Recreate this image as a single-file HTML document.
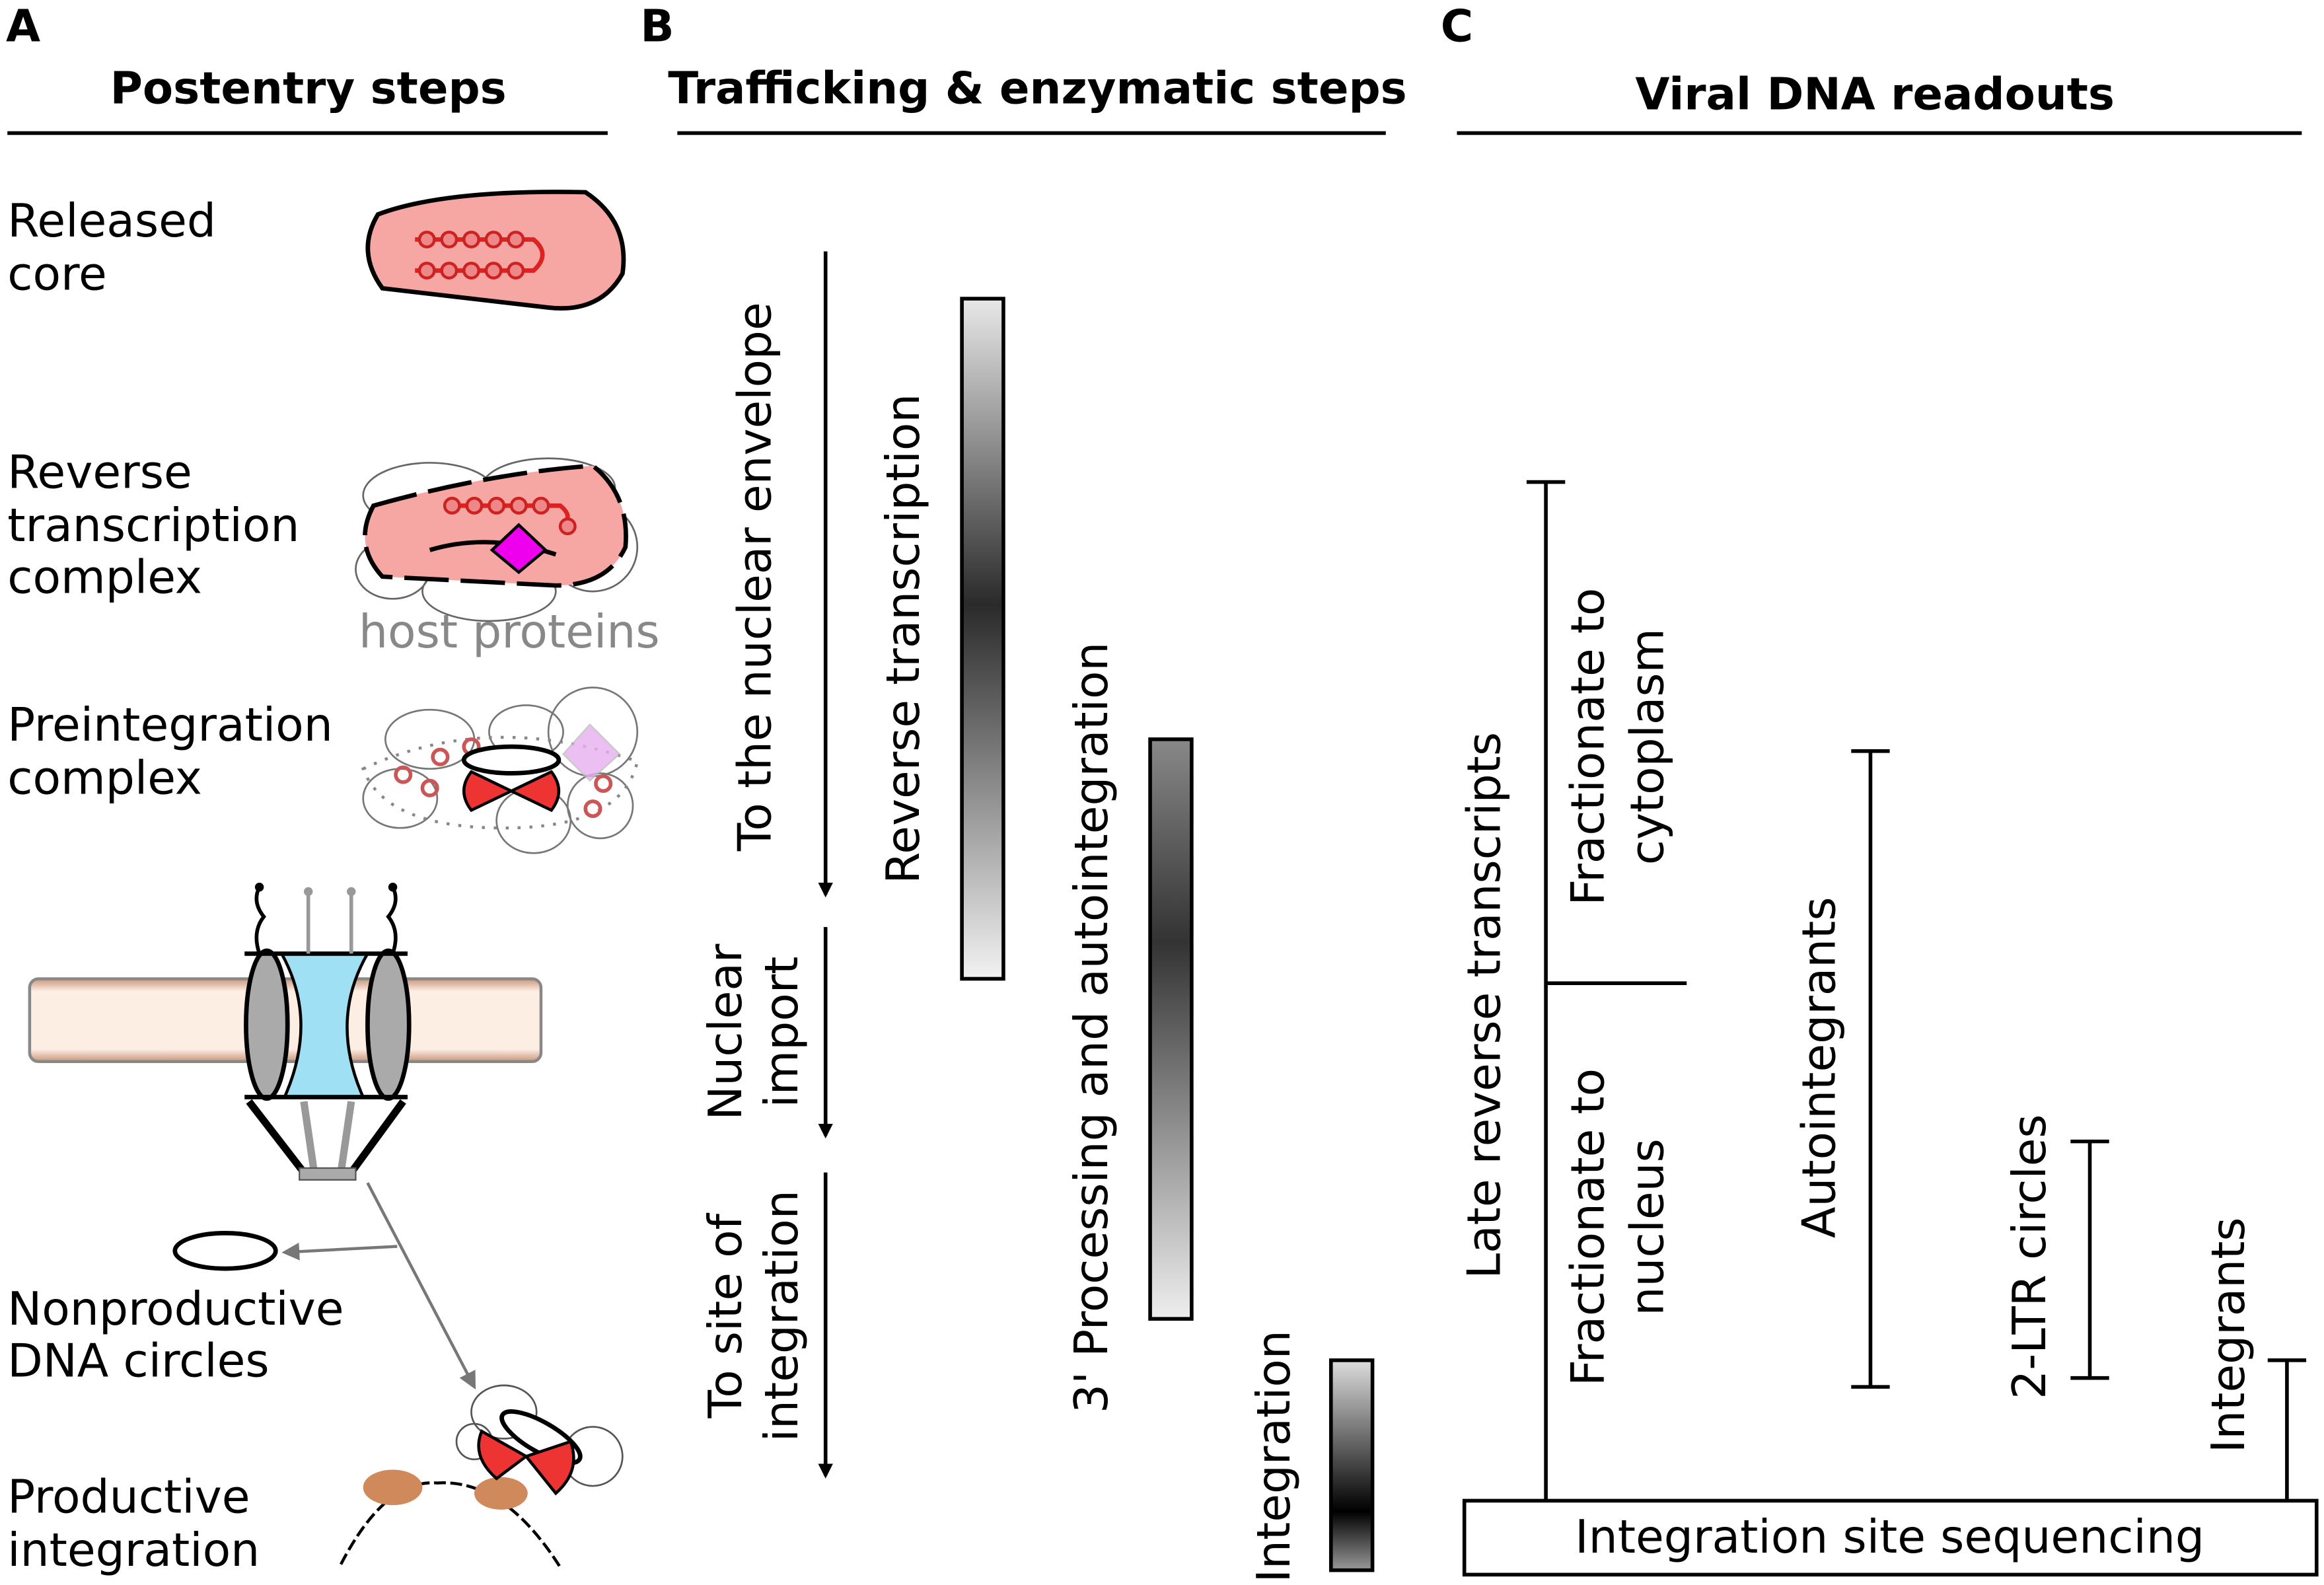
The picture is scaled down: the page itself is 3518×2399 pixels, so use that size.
<!DOCTYPE html>
<html><head><meta charset="utf-8"><style>
html,body{margin:0;padding:0;background:#fff;}
svg{display:block;}
text{font-family:"DejaVu Sans","Liberation Sans",sans-serif;}
</style></head><body>
<svg width="3518" height="2399" viewBox="0 0 1568 1072" preserveAspectRatio="none" xmlns="http://www.w3.org/2000/svg">
<defs>
<linearGradient id="g1" x1="0" y1="0" x2="0" y2="1"><stop offset="0" stop-color="#e8e8e8"/><stop offset="0.45" stop-color="#2a2a2a"/><stop offset="1" stop-color="#f2f2f2"/></linearGradient>
<linearGradient id="g2" x1="0" y1="0" x2="0" y2="1"><stop offset="0" stop-color="#888"/><stop offset="0.35" stop-color="#333"/><stop offset="1" stop-color="#eee"/></linearGradient>
<linearGradient id="g3" x1="0" y1="0" x2="0" y2="1"><stop offset="0" stop-color="#ddd"/><stop offset="0.72" stop-color="#000"/><stop offset="1" stop-color="#999"/></linearGradient>
<linearGradient id="mem" x1="0" y1="0" x2="0" y2="1"><stop offset="0" stop-color="#c8957a"/><stop offset="0.15" stop-color="#fdeee4"/><stop offset="0.85" stop-color="#fdeee4"/><stop offset="1" stop-color="#c8957a"/></linearGradient>
<marker id="ar" markerWidth="10" markerHeight="10" refX="8" refY="5" orient="auto" markerUnits="userSpaceOnUse"><path d="M0,0 L10,5 L0,10 Z" fill="#000"/></marker>
<marker id="ag" markerWidth="12" markerHeight="12" refX="10" refY="6" orient="auto" markerUnits="userSpaceOnUse"><path d="M0,0 L12,6 L0,12 Z" fill="#777"/></marker>
</defs>
<g font-weight="bold" font-size="30">
<text x="4" y="28">A</text><text x="432" y="28">B</text><text x="972" y="28">C</text>
</g>
<g font-weight="bold" font-size="30" text-anchor="middle">
<text x="208" y="70">Postentry steps</text>
<text x="700" y="70">Trafficking &amp; enzymatic steps</text>
<text x="1265" y="74">Viral DNA readouts</text>
</g>
<g stroke="#000" stroke-width="2.5">
<line x1="5" y1="90" x2="410" y2="90"/><line x1="457" y1="90" x2="935" y2="90"/><line x1="983" y1="90" x2="1553" y2="90"/>
</g>
<g font-size="31">
<text x="5" y="160">Released</text><text x="5" y="196">core</text>
<text x="5" y="330">Reverse</text><text x="5" y="366">transcription</text><text x="5" y="401">complex</text>
<text x="5" y="501">Preintegration</text><text x="5" y="537">complex</text>
<text x="5" y="896">Nonproductive</text><text x="5" y="931">DNA circles</text>
<text x="5" y="1023">Productive</text><text x="5" y="1059">integration</text>
<text x="242" y="438" fill="#888">host proteins</text>
</g>
<path d="M255,145 Q300,128 395,130 Q425,150 420,185 Q405,212 370,208 L258,195 Q240,170 255,145 Z" fill="#f6a6a3" stroke="#000" stroke-width="3"/>
<g stroke="#d22" stroke-width="3" fill="none"><path d="M280,162 H360 Q372,172 360,183 H280"/></g>
<g fill="#e88" stroke="#c22" stroke-width="2"><circle cx="288" cy="162" r="5"/><circle cx="303" cy="162" r="5"/><circle cx="318" cy="162" r="5"/><circle cx="333" cy="162" r="5"/><circle cx="348" cy="162" r="5"/><circle cx="288" cy="183" r="5"/><circle cx="303" cy="183" r="5"/><circle cx="318" cy="183" r="5"/><circle cx="333" cy="183" r="5"/><circle cx="348" cy="183" r="5"/></g>
<g fill="none" stroke="#666" stroke-width="1.2"><ellipse cx="290" cy="335" rx="45" ry="22"/><ellipse cx="370" cy="330" rx="45" ry="20"/><ellipse cx="330" cy="400" rx="45" ry="20"/><ellipse cx="400" cy="370" rx="30" ry="30"/><ellipse cx="265" cy="385" rx="25" ry="20"/></g>
<path d="M252,342 Q330,320 400,315 Q425,335 422,370 Q410,396 375,396 L258,390 Q238,368 252,342 Z" fill="#f6a6a3" stroke="#000" stroke-width="3" stroke-dasharray="30,8"/>
<path d="M300,342 H378 Q388,350 378,356" stroke="#d22" stroke-width="3" fill="none"/>
<g fill="#e88" stroke="#c22" stroke-width="2"><circle cx="305" cy="342" r="5"/><circle cx="320" cy="342" r="5"/><circle cx="335" cy="342" r="5"/><circle cx="350" cy="342" r="5"/><circle cx="365" cy="342" r="5"/><circle cx="383" cy="356" r="5"/></g>
<path d="M290,372 Q330,360 375,375" stroke="#000" stroke-width="3" fill="none"/>
<path d="M350,355 L368,372 L350,387 L332,372 Z" fill="#e0e" stroke="#000" stroke-width="2"/>
<g fill="none" stroke="#777" stroke-width="1.2"><ellipse cx="290" cy="500" rx="30" ry="20"/><ellipse cx="355" cy="495" rx="25" ry="18"/><ellipse cx="400" cy="495" rx="30" ry="30"/><ellipse cx="270" cy="540" rx="25" ry="20"/><ellipse cx="360" cy="555" rx="25" ry="22"/><ellipse cx="405" cy="545" rx="22" ry="22"/></g>
<path d="M245,520 Q330,480 430,515 Q420,560 340,560 Q260,560 245,520 Z" fill="none" stroke="#888" stroke-width="2" stroke-dasharray="2,6"/>
<path d="M398,490 L418,510 L398,528 L380,510 Z" fill="#e8b0f0" stroke="#bbb" stroke-width="1" opacity="0.8"/>
<g fill="none" stroke="#c55" stroke-width="2.5"><circle cx="297" cy="512" r="5"/><circle cx="272" cy="524" r="5"/><circle cx="290" cy="533" r="5"/><circle cx="318" cy="505" r="5"/><circle cx="407" cy="530" r="5"/><circle cx="400" cy="547" r="5"/></g>
<ellipse cx="345" cy="514" rx="32" ry="9" fill="#fff" stroke="#000" stroke-width="3"/>
<path d="M318,522 L345,535 L318,548 Q308,535 318,522 Z" fill="#e33" stroke="#000" stroke-width="2"/>
<path d="M372,522 L345,535 L372,548 Q382,535 372,522 Z" fill="#e33" stroke="#000" stroke-width="2"/>
<rect x="20" y="662" width="345" height="56" rx="6" fill="url(#mem)" stroke="#888" stroke-width="2"/>
<path d="M190,645 Q215,690 192,742 L245,742 Q222,690 248,645 Z" fill="#9fe0f5" stroke="#000" stroke-width="2"/>
<ellipse cx="180" cy="693" rx="14" ry="50" fill="#aaa" stroke="#000" stroke-width="3"/>
<ellipse cx="262" cy="693" rx="14" ry="50" fill="#aaa" stroke="#000" stroke-width="3"/>
<line x1="165" y1="645" x2="275" y2="645" stroke="#000" stroke-width="3"/>
<line x1="165" y1="742" x2="275" y2="742" stroke="#000" stroke-width="3"/>
<g stroke="#000" stroke-width="5"><line x1="168" y1="745" x2="205" y2="793"/><line x1="272" y1="745" x2="237" y2="793"/></g>
<g stroke="#999" stroke-width="5"><line x1="205" y1="745" x2="212" y2="793"/><line x1="237" y1="745" x2="230" y2="793"/></g>
<rect x="202" y="790" width="38" height="8" fill="#aaa" stroke="#555"/>
<g fill="none" stroke="#000" stroke-width="2.5"><path d="M175,645 Q170,630 178,620 Q170,610 175,600"/><path d="M265,645 Q270,630 262,620 Q270,610 265,600"/></g>
<g fill="none" stroke="#999" stroke-width="2.5"><line x1="208" y1="645" x2="208" y2="603"/><line x1="237" y1="645" x2="237" y2="603"/></g>
<g fill="#000"><circle cx="175" cy="600" r="3"/><circle cx="265" cy="600" r="3"/></g><g fill="#999"><circle cx="208" cy="603" r="3"/><circle cx="237" cy="603" r="3"/></g>
<g stroke="#777" stroke-width="2" fill="none"><line x1="248" y1="800" x2="320" y2="938" marker-end="url(#ag)"/><line x1="268" y1="843" x2="192" y2="847" marker-end="url(#ag)"/></g>
<ellipse cx="152" cy="846" rx="34" ry="12" fill="#fff" stroke="#000" stroke-width="3"/>
<path d="M230,1058 Q260,1000 295,1003 Q340,1000 378,1060" fill="none" stroke="#000" stroke-width="2" stroke-dasharray="8,3"/>
<ellipse cx="265" cy="1006" rx="20" ry="12" fill="#d0895a"/><ellipse cx="338" cy="1010" rx="18" ry="11" fill="#d0895a"/>
<g fill="none" stroke="#555" stroke-width="1.2"><ellipse cx="340" cy="955" rx="22" ry="18"/><ellipse cx="400" cy="985" rx="20" ry="20"/><ellipse cx="320" cy="975" rx="12" ry="12"/></g>
<ellipse cx="365" cy="972" rx="30" ry="10" transform="rotate(30 365 972)" fill="#fff" stroke="#000" stroke-width="3"/>
<path d="M325,968 L355,985 L335,1000 Q318,985 325,968 Z" fill="#e33" stroke="#000" stroke-width="2"/>
<path d="M385,975 L355,985 L375,1010 Q392,995 385,975 Z" fill="#e33" stroke="#000" stroke-width="2"/>
<g stroke="#000" stroke-width="2.5"><line x1="557" y1="170" x2="557" y2="605" marker-end="url(#ar)"/><line x1="557" y1="627" x2="557" y2="768" marker-end="url(#ar)"/><line x1="557" y1="793" x2="557" y2="998" marker-end="url(#ar)"/></g>
<g font-size="31" text-anchor="middle">
<text transform="translate(520,390) rotate(-90)">To the nuclear envelope</text>
<text transform="translate(500,698) rotate(-90)">Nuclear</text><text transform="translate(538,698) rotate(-90)">import</text>
<text transform="translate(500,890) rotate(-90)">To site of</text><text transform="translate(538,890) rotate(-90)">integration</text>
<text transform="translate(620,432) rotate(-90)">Reverse transcription</text>
<text transform="translate(747,695) rotate(-90)">3' Processing and autointegration</text>
<text transform="translate(870,985) rotate(-90)">Integration</text>
<text transform="translate(1012,680) rotate(-90)">Late reverse transcripts</text>
<text transform="translate(1082,505) rotate(-90)">Fractionate to</text><text transform="translate(1122,505) rotate(-90)">cytoplasm</text>
<text transform="translate(1082,830) rotate(-90)">Fractionate to</text><text transform="translate(1122,830) rotate(-90)">nucleus</text>
<text transform="translate(1238,722) rotate(-90)">Autointegrants</text>
<text transform="translate(1380,850) rotate(-90)">2-LTR circles</text>
<text transform="translate(1514,903) rotate(-90)">Integrants</text>
</g>
<rect x="649" y="202" width="28" height="460" fill="url(#g1)" stroke="#000" stroke-width="2.5"/>
<rect x="776" y="500" width="28" height="392" fill="url(#g2)" stroke="#000" stroke-width="2.5"/>
<rect x="898" y="920" width="28" height="142" fill="url(#g3)" stroke="#000" stroke-width="2.5"/>
<g stroke="#000" stroke-width="2.5">
<line x1="1043" y1="326" x2="1043" y2="1015"/><line x1="1030" y1="326" x2="1056" y2="326"/>
<line x1="1043" y1="665" x2="1138" y2="665"/>
<line x1="1262" y1="508" x2="1262" y2="938"/><line x1="1249" y1="508" x2="1275" y2="508"/><line x1="1249" y1="938" x2="1275" y2="938"/>
<line x1="1410" y1="772" x2="1410" y2="932"/><line x1="1397" y1="772" x2="1423" y2="772"/><line x1="1397" y1="932" x2="1423" y2="932"/>
<line x1="1543" y1="920" x2="1543" y2="1015"/><line x1="1530" y1="920" x2="1556" y2="920"/>
</g>
<rect x="988" y="1015" width="575" height="50" fill="#fff" stroke="#000" stroke-width="2.5"/>
<text x="1275" y="1050" font-size="31" text-anchor="middle">Integration site sequencing</text>
</svg>
</body></html>
